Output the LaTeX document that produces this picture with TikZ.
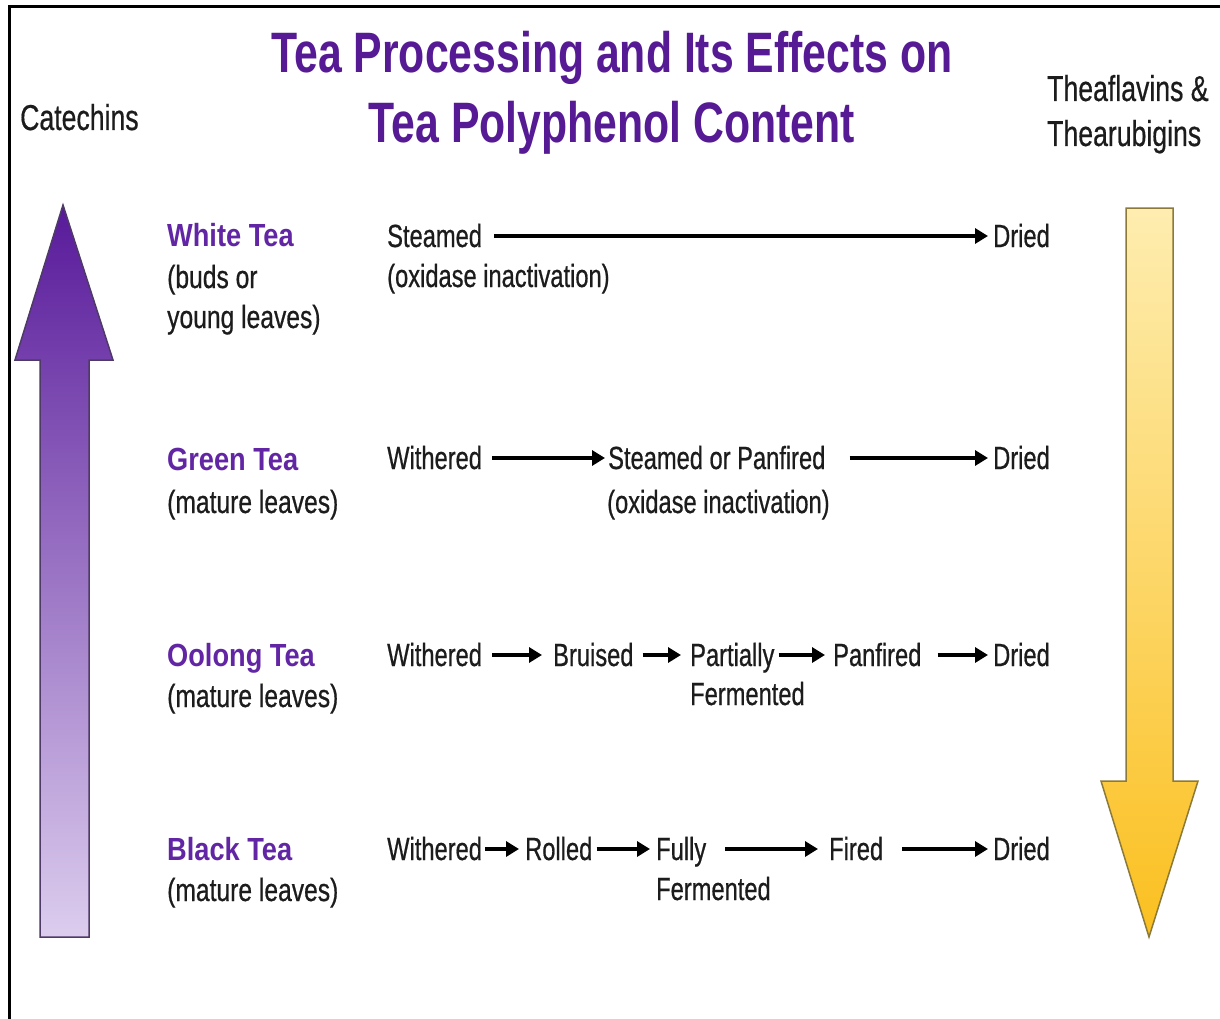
\documentclass[tikz,border=0pt]{standalone}
\usepackage{fontspec}
\setmainfont{Liberation Sans}
\newfontfamily\bodyf{Liberation Sans}[FakeStretch=0.74,FakeBold=0.6]
\newfontfamily\subf{Liberation Sans}[FakeStretch=0.77,FakeBold=0.6]
\newfontfamily\namef{Liberation Sans}[FakeStretch=0.85]
\newfontfamily\titlef{Liberation Sans}[FakeStretch=0.75]
\newfontfamily\sidef{Liberation Sans}[FakeStretch=0.74,FakeBold=0.5]
\usetikzlibrary{arrows.meta}
\definecolor{titlec}{HTML}{561A95}
\definecolor{teac}{HTML}{6226A4}
\definecolor{txtc}{HTML}{1C1C1C}
\definecolor{purpletop}{HTML}{581A9A}
\definecolor{purplebot}{HTML}{DCCDEE}
\definecolor{purpleline}{HTML}{4E3A66}
\definecolor{yellowtop}{HTML}{FEEDB0}
\definecolor{yellowbot}{HTML}{FBC020}
\definecolor{yellowline}{HTML}{8C7A3A}
\tikzset{
  txt/.style={inner sep=0pt, anchor=base west, text=txtc, font=\bodyf\fontsize{32}{38}\selectfont},
  subtxt/.style={inner sep=0pt, anchor=base west, text=txtc, font=\subf\fontsize{32}{38}\selectfont},
  teaname/.style={inner sep=0pt, anchor=base west, text=teac, font=\namef\bfseries\fontsize{32}{38}\selectfont},
  sidetxt/.style={inner sep=0pt, anchor=base west, text=txtc, font=\sidef\fontsize{36}{42}\selectfont},
  titletxt/.style={inner sep=0pt, anchor=base, text=titlec, font=\titlef\bfseries\fontsize{57}{64}\selectfont},
  flow/.style={line width=3.2pt, -{Triangle[length=13pt,width=15pt]}},
  bigarrow/.style={line width=1.5pt, line join=miter}
}
\begin{document}
\begin{tikzpicture}[x=1pt,y=-1pt]
\useasboundingbox (0,0) rectangle (1220,1019);
\fill[white] (0,0) rectangle (1220,1019);
% frame
\draw[line width=3pt] (9,1019) -- (9,7) -- (1220,7);

% title
\node[titletxt] (t1) at (612,73) {Tea Processing and Its Effects on};
\node[titletxt] (t2) at (612,143) {Tea Polyphenol Content};

% side labels
\node[sidetxt] (cat) at (20,130) {Catechins};
\node[sidetxt] (thf) at (1047,101) {Theaflavins \&};
\node[sidetxt] (thr) at (1047,146) {Thearubigins};

% big purple arrow (up)
\draw[bigarrow, draw=purpleline, top color=purpletop, bottom color=purplebot]
  (40,937) -- (40,360) -- (15,360) -- (63,205) -- (113,360) -- (89,360) -- (89,937) -- cycle;
% big yellow arrow (down)
\draw[bigarrow, draw=yellowline, top color=yellowtop, bottom color=yellowbot]
  (1126,208) -- (1173,208) -- (1173,781) -- (1198,781) -- (1149,937) -- (1101,781) -- (1126,781) -- cycle;

% tea names
\node[teaname] (white) at (167,246) {White Tea};
\node[subtxt] (whs1) at (167,288) {(buds or};
\node[subtxt] (whs2) at (167,328) {young leaves)};
\node[teaname] (green) at (167,470) {Green Tea};
\node[subtxt] (grs) at (167,513) {(mature leaves)};
\node[teaname] (oolong) at (167,666) {Oolong Tea};
\node[subtxt] (ols) at (167,707) {(mature leaves)};
\node[teaname] (black) at (167,860) {Black Tea};
\node[subtxt] (bls) at (167,901) {(mature leaves)};

% row 1: white tea
\node[txt] (a1) at (387,247) {Steamed};
\node[txt] (a1s) at (387,287) {(oxidase inactivation)};
\node[txt] (d1) at (993,247) {Dried};
\draw[flow] ([xshift=12pt,yshift=11pt]a1.base east) -- ([xshift=-5pt,yshift=11pt]d1.base west);

% row 2: green tea
\node[txt] (b1) at (387,469) {Withered};
\node[txt] (b2) at (608,469) {Steamed or Panfired};
\node[txt] (b2s) at (607,513) {(oxidase inactivation)};
\node[txt] (d2) at (993,469) {Dried};
\draw[flow] ([xshift=10pt,yshift=11pt]b1.base east) -- ([xshift=-3pt,yshift=11pt]b2.base west);
\draw[flow] ([xshift=24pt,yshift=11pt]b2.base east) -- ([xshift=-5pt,yshift=11pt]d2.base west);

% row 3: oolong tea
\node[txt] (c1) at (387,666) {Withered};
\node[txt] (c2) at (553,666) {Bruised};
\node[txt] (c3) at (690,666) {Partially};
\node[txt] (c3s) at (690,705) {Fermented};
\node[txt] (c4) at (833,666) {Panfired};
\node[txt] (d3) at (993,666) {Dried};
\draw[flow] ([xshift=10pt,yshift=11pt]c1.base east) -- ([xshift=-11pt,yshift=11pt]c2.base west);
\draw[flow] ([xshift=9pt,yshift=11pt]c2.base east) -- ([xshift=-9pt,yshift=11pt]c3.base west);
\draw[flow] ([xshift=4pt,yshift=11pt]c3.base east) -- ([xshift=-8pt,yshift=11pt]c4.base west);
\draw[flow] ([xshift=16pt,yshift=11pt]c4.base east) -- ([xshift=-5pt,yshift=11pt]d3.base west);

% row 4: black tea
\node[txt] (e1) at (387,860) {Withered};
\node[txt] (e2) at (525,860) {Rolled};
\node[txt] (e3) at (656,860) {Fully};
\node[txt] (e3s) at (656,900) {Fermented};
\node[txt] (e4) at (829,860) {Fired};
\node[txt] (d4) at (993,860) {Dried};
\draw[flow] ([xshift=3pt,yshift=11pt]e1.base east) -- ([xshift=-6pt,yshift=11pt]e2.base west);
\draw[flow] ([xshift=4pt,yshift=11pt]e2.base east) -- ([xshift=-6pt,yshift=11pt]e3.base west);
\draw[flow] ([xshift=19pt,yshift=11pt]e3.base east) -- ([xshift=-11pt,yshift=11pt]e4.base west);
\draw[flow] ([xshift=19pt,yshift=11pt]e4.base east) -- ([xshift=-5pt,yshift=11pt]d4.base west);
\end{tikzpicture}
\end{document}
